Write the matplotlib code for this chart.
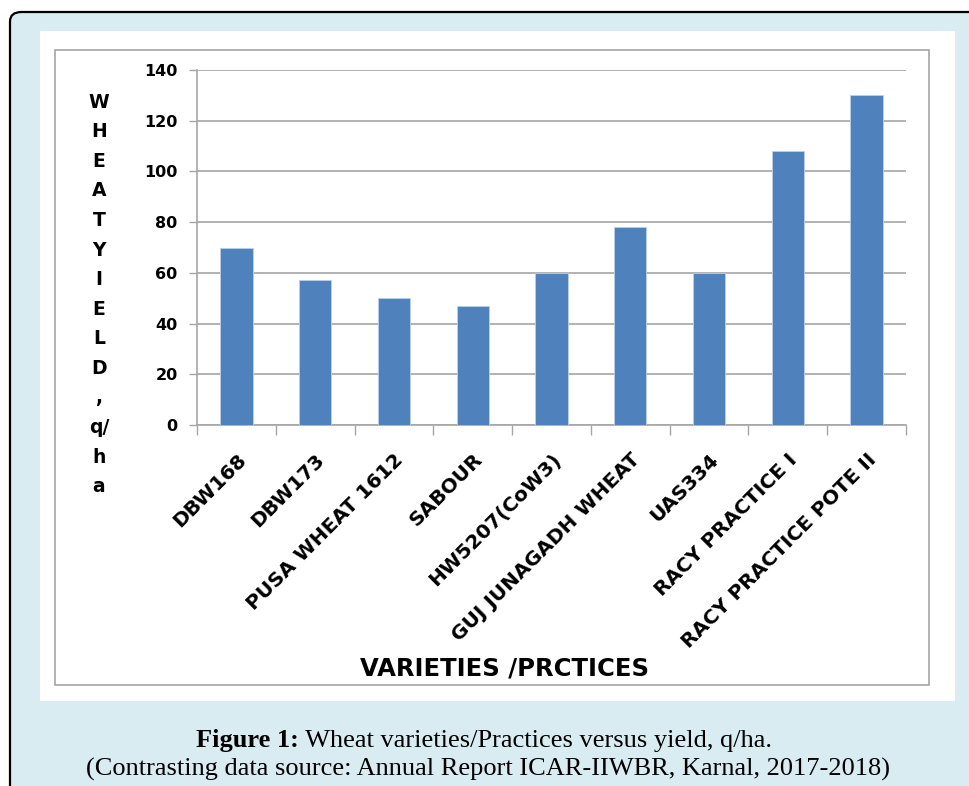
import matplotlib.pyplot as plt
from matplotlib.patches import FancyBboxPatch, Rectangle

varieties = ["DBW168", "DBW173", "PUSA WHEAT 1612", "SABOUR", "HW5207(CoW3)",
             "GUJ JUNAGADH WHEAT", "UAS334", "RACY PRACTICE I", "RACY PRACTICE POTE II"]
yield_qha = [70, 57, 50, 47, 60, 78, 60, 108, 130]
y_ticks = [0, 20, 40, 60, 80, 100, 120, 140]
y_label_lines = ["W", "H", "E", "A", "T", "Y", "I", "E", "L", "D", ",", "q/", "h", "a"]

W, H = 970, 786
BAR_COLOR = "#4f81bd"
BG_BLUE = "#d8ecf1"
GRID = "#a6a6a6"
SANS = "DejaVu Sans"
SERIF = "Liberation Serif"


def px(x0, y0, x1, y1):
    # pixel box (top-left origin) -> figure fraction [left, bottom, width, height]
    return [x0 / W, 1 - y1 / H, (x1 - x0) / W, (y1 - y0) / H]


fig = plt.figure(figsize=(W / 100, H / 100), dpi=100)
fig.patch.set_facecolor("white")

# outer frame and panels (behind the axes)
frame = FancyBboxPatch((10 / W, -20 / H), 1.1, (H - 12 + 20) / H,
                       boxstyle="round,pad=0,rounding_size=0.012",
                       transform=fig.transFigure, facecolor=BG_BLUE,
                       edgecolor="black", linewidth=1.6, zorder=-3)
fig.patches.append(frame)
l, b, w, h = px(40, 31, 955, 701)
fig.patches.append(Rectangle((l, b), w, h, transform=fig.transFigure,
                             facecolor="white", edgecolor="none", zorder=-2))
l, b, w, h = px(55, 50, 929, 685)
fig.patches.append(Rectangle((l, b), w, h, transform=fig.transFigure,
                             facecolor="white", edgecolor=GRID, linewidth=1.2,
                             zorder=-1))

ax = fig.add_axes(px(197, 70, 906, 425))
x = range(len(varieties))
ax.bar(x, yield_qha, width=0.41, color=BAR_COLOR, edgecolor="#bcd0ea",
       linewidth=0.6, zorder=3)
ax.set_xlim(-0.5, len(varieties) - 0.5)
ax.set_ylim(0, 140)
ax.set_facecolor("none")

ax.set_yticks(y_ticks)
ax.set_yticklabels([str(t) for t in y_ticks], fontsize=11.5, fontweight="bold",
                   family=SANS)
ax.yaxis.grid(True, color=GRID, linewidth=1.2, zorder=0)
ax.tick_params(axis="y", length=6, width=1, color=GRID, direction="out", pad=8)

# category boundaries get the tick marks, centres get the labels
ax.set_xticks([i - 0.5 for i in range(len(varieties) + 1)])
ax.set_xticklabels([])
ax.tick_params(axis="x", length=7, width=1, color=GRID, direction="out")
ax.set_xticks(list(x), minor=True)
ax.set_xticklabels(varieties, minor=True, rotation=45, ha="right", va="top",
                   rotation_mode="anchor", fontsize=14.5, fontweight="bold",
                   family=SANS)
ax.tick_params(axis="x", which="minor", length=0, pad=18)

for side in ["top", "right"]:
    ax.spines[side].set_visible(False)
for side in ["left", "bottom"]:
    ax.spines[side].set_color(GRID)
    ax.spines[side].set_linewidth(1.2)

# stacked y label
for i, s in enumerate(y_label_lines):
    fig.text(99 / W, 1 - (102 + i * 29.6) / H, s, ha="center", va="center",
             fontsize=13.5, fontweight="bold", family=SANS)

fig.text(505 / W, 1 - 668 / H, "VARIETIES /PRCTICES", ha="center", va="center",
         fontsize=17.5, fontweight="bold", family=SANS)

# caption: bold lead-in + regular text, centred as one line
renderer = fig.canvas.get_renderer()
t_bold = fig.text(0, 1 - 741 / H, "Figure 1:", ha="left", va="center",
                  fontsize=19, fontweight="bold", family=SERIF)
t_rest = fig.text(0, 1 - 741 / H, " Wheat varieties/Practices versus yield, q/ha.",
                  ha="left", va="center", fontsize=19, family=SERIF)
wb = t_bold.get_window_extent(renderer).width
wr = t_rest.get_window_extent(renderer).width
x0 = 484 - (wb + wr) / 2
t_bold.set_x(x0 / W)
t_rest.set_x((x0 + wb) / W)
fig.text(488 / W, 1 - 769 / H,
         "(Contrasting data source: Annual Report ICAR-IIWBR, Karnal, 2017-2018)",
         ha="center", va="center", fontsize=19, family=SERIF)

fig.savefig("out.png", dpi=100)
